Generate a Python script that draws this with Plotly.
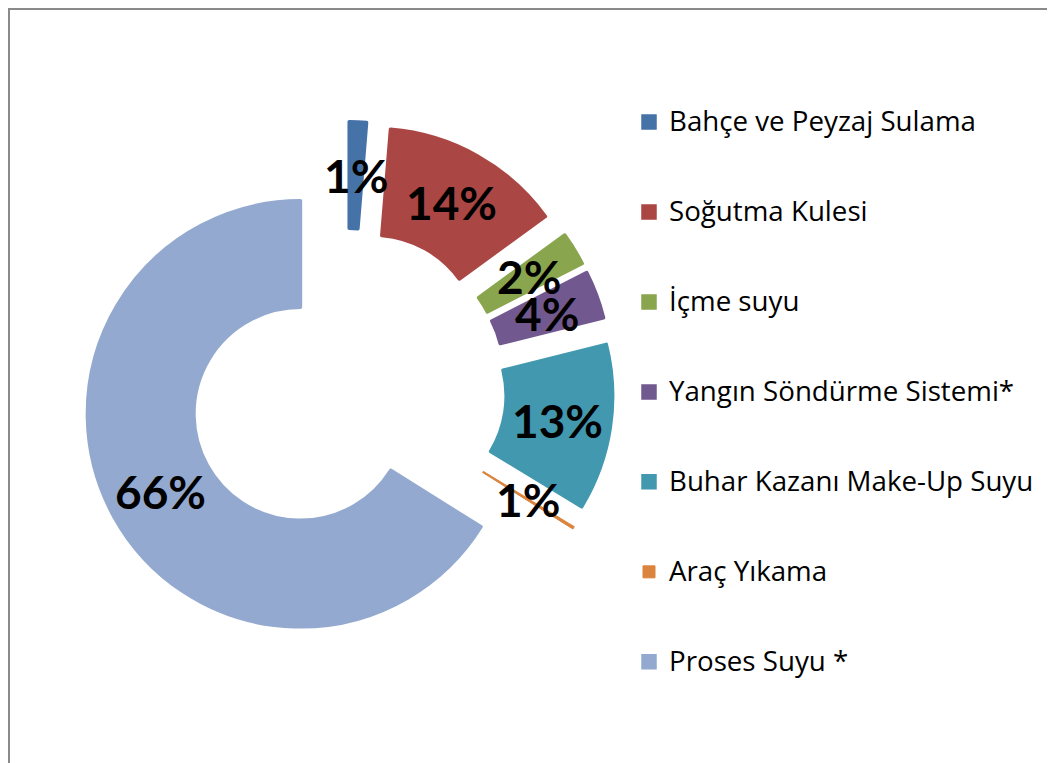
import math
import plotly.graph_objects as go

# ---- data ----
categories = [
    "Bahçe ve Peyzaj Sulama",
    "Soğutma Kulesi",
    "İçme suyu",
    "Yangın Söndürme Sistemi*",
    "Buhar Kazanı Make-Up Suyu",
    "Araç Yıkama",
    "Proses Suyu *",
]
values = [1.3, 13.7, 2.5, 3.6, 12.6, 0.2, 66.1]
value_labels = ["1%", "14%", "2%", "4%", "13%", "1%", "66%"]
colors = ["#4572A7", "#AA4643", "#89A54E", "#71588F", "#4198AF", "#DB843D", "#93A9CF"]

# ---- layout constants ----
W, H = 1047, 755
PULL = 0.25
HOLE = 0.5
dom_x = [0.0695, 0.5781]
dom_y = [0.1440, 0.8493]
LABEL_FONT = "Lato"
LEGEND_FONT = "Open Sans"

# legend entries: empty line above/below to space entries like the original
legend_names = [
    "\u00a0<br><span style='font-size:27.7px'>%s</span><br>\u00a0" % c for c in categories
]

line_widths = [3.5 if v >= 1 else 1 for v in values]

fig = go.Figure()
fig.add_trace(
    go.Pie(
        labels=legend_names,
        values=values,
        sort=False,
        direction="clockwise",
        rotation=0,
        hole=HOLE,
        pull=[PULL] * len(values),
        marker=dict(colors=colors, line=dict(color=colors, width=line_widths)),
        textinfo="none",
        hoverinfo="skip",
        domain=dict(x=dom_x, y=dom_y),
    )
)

# ---- data labels at ring middle of each (pulled) slice, derived from values ----
box_w = W * (dom_x[1] - dom_x[0])
box_h = H * (dom_y[1] - dom_y[0])
r = min(box_w, box_h) / (2 + 2 * PULL)
cx = W * (dom_x[0] + dom_x[1]) / 2
cy = H * (1 - (dom_y[0] + dom_y[1]) / 2)
total = sum(values)
cum = 0.0
for v, lab in zip(values, value_labels):
    mid = (cum + v / 2) / total * 2 * math.pi
    cum += v
    rr = (PULL + (1 + HOLE) / 2) * r
    px = cx + rr * math.sin(mid)
    py = cy - rr * math.cos(mid)
    fig.add_annotation(
        x=px / W, y=1 - py / H, xref="paper", yref="paper",
        text="<b>%s</b>" % lab, showarrow=False,
        xanchor="center", yanchor="middle",
        font=dict(family=LABEL_FONT, size=46, color="black"),
    )

fig.update_layout(
    width=W, height=H,
    margin=dict(l=0, r=0, t=0, b=0),
    paper_bgcolor="white",
    plot_bgcolor="white",
    showlegend=True,
    legend=dict(
        x=621 / W, xanchor="left",
        y=1 - 64 / H, yanchor="top",
        font=dict(family=LEGEND_FONT, size=22.3, color="black"),
        bgcolor="rgba(0,0,0,0)",
        borderwidth=0,
        traceorder="normal",
    ),
    shapes=[
        dict(type="rect", xref="paper", yref="paper",
             x0=1 / W, x1=1.05, y0=-0.05, y1=1 - 1 / H,
             line=dict(color="#8a8a8a", width=2), fillcolor="rgba(0,0,0,0)", layer="below"),
    ],
)

fig.write_html("out.html")
